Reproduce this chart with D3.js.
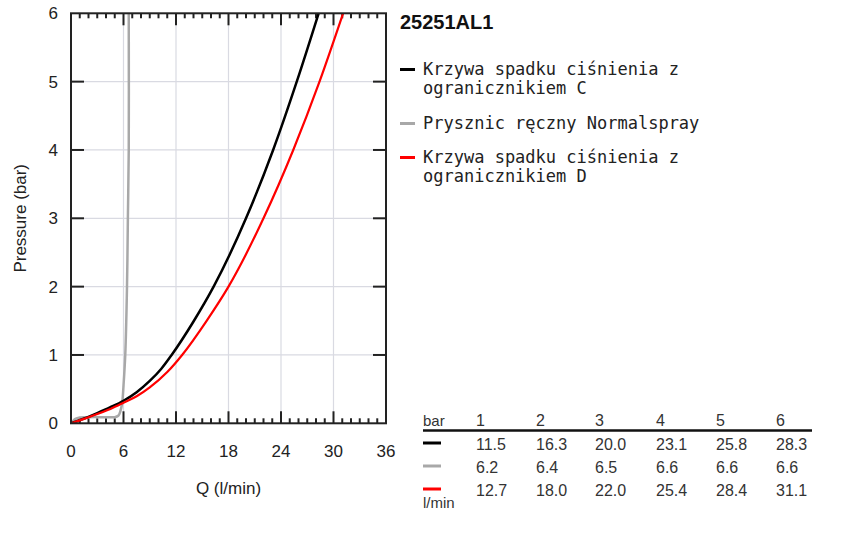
<!DOCTYPE html>
<html><head><meta charset="utf-8">
<script src="https://cdn.jsdelivr.net/npm/d3@7"></script>
<style>body{margin:0;background:#fff}svg{display:block}</style>
</head><body><svg id="c" width="850" height="545"></svg>
<script>
const title = "25251AL1";
const seriesNames = ["Krzywa spadku ciśnienia z\nogranicznikiem C", "Prysznic ręczny Normalspray", "Krzywa spadku ciśnienia z\nogranicznikiem D"];
const seriesColors = ["#000000", "#a8a8a8", "#ff0000"];
const blackQ = [0, 1.5, 3, 4.5, 6, 7.5, 9, 10.3, 11.5, 14, 16.3, 20.0, 23.1, 25.8, 28.3];
const blackP = [0, 0.07, 0.15, 0.235, 0.33, 0.455, 0.62, 0.795, 1, 1.49, 2, 3, 4, 5, 6];
const grayQ = [0, 0.2, 0.5, 1.0, 2, 4, 5.0, 5.4, 5.65, 5.85, 6.0, 6.2, 6.4, 6.5, 6.6, 6.6];
const grayP = [0, 0.03, 0.065, 0.085, 0.09, 0.09, 0.09, 0.11, 0.18, 0.3, 0.55, 1, 2, 3, 4, 6];
const redQ = [0, 1.5, 3, 4.5, 6, 7.5, 9, 11, 12.7, 15.5, 18.0, 22.0, 25.4, 28.4, 31.1];
const redP = [0, 0.065, 0.135, 0.21, 0.3, 0.395, 0.525, 0.75, 1, 1.5, 2, 3, 4, 5, 6];
const xTicks = [0, 6, 12, 18, 24, 30, 36];
const yTicks = [0, 1, 2, 3, 4, 5, 6];
const tableHeader = ["1", "2", "3", "4", "5", "6"];
const tableBlack = ["11.5", "16.3", "20.0", "23.1", "25.8", "28.3"];
const tableGray = ["6.2", "6.4", "6.5", "6.6", "6.6", "6.6"];
const tableRed = ["12.7", "18.0", "22.0", "25.4", "28.4", "31.1"];

const svg = d3.select("#c");
const L = 71, R = 386, T = 13.3, B = 423.3;
const x = d3.scaleLinear().domain([0, 36]).range([L, R]);
const y = d3.scaleLinear().domain([0, 6]).range([B, T]);
const sans = "'Liberation Sans', Arial, sans-serif";
const mono = "'DejaVu Sans Mono', monospace";

// grid
const g = svg.append("g");
g.selectAll(".vg").data(xTicks.slice(1, -1)).enter().append("line")
  .attr("x1", d => x(d)).attr("x2", d => x(d)).attr("y1", T).attr("y2", B)
  .attr("stroke", "#d9dae2").attr("stroke-width", 1.2);
g.selectAll(".hg").data(yTicks.slice(1, -1)).enter().append("line")
  .attr("y1", d => y(d)).attr("y2", d => y(d)).attr("x1", L).attr("x2", R)
  .attr("stroke", "#d9dae2").attr("stroke-width", 1.2);

// ticks
const minor = d3.range(1, 36).filter(v => v % 6 !== 0);
const tk = svg.append("g").attr("stroke", "#222").attr("stroke-width", 2);
minor.forEach(v => {
  tk.append("line").attr("x1", x(v)).attr("x2", x(v)).attr("y1", B).attr("y2", B - 5);
  tk.append("line").attr("x1", x(v)).attr("x2", x(v)).attr("y1", T).attr("y2", T + 5);
});
xTicks.slice(1, -1).forEach(v => {
  tk.append("line").attr("x1", x(v)).attr("x2", x(v)).attr("y1", B).attr("y2", B - 12);
  tk.append("line").attr("x1", x(v)).attr("x2", x(v)).attr("y1", T).attr("y2", T + 12);
});
yTicks.slice(1, -1).forEach(v => {
  tk.append("line").attr("x1", L).attr("x2", L + 13).attr("y1", y(v)).attr("y2", y(v));
  tk.append("line").attr("x1", R).attr("x2", R - 13).attr("y1", y(v)).attr("y2", y(v));
});

// curves
svg.append("clipPath").attr("id", "clp").append("rect")
  .attr("x", L).attr("y", T).attr("width", R - L).attr("height", B - T);
const plot = svg.append("g").attr("clip-path", "url(#clp)");
const mk = (qs, ps) => qs.map((q, i) => [q, ps[i]]);
const lineN = d3.line().x(d => x(d[0])).y(d => y(d[1])).curve(d3.curveMonotoneX);
const lineC = d3.line().x(d => x(d[0])).y(d => y(d[1])).curve(d3.curveCatmullRom.alpha(0.5));
plot.append("path").attr("d", lineC(mk(grayQ, grayP))).attr("fill", "none")
  .attr("stroke", seriesColors[1]).attr("stroke-width", 2.5);
plot.append("path").attr("d", lineN(mk(blackQ, blackP))).attr("fill", "none")
  .attr("stroke", seriesColors[0]).attr("stroke-width", 2.5);
plot.append("path").attr("d", lineN(mk(redQ, redP))).attr("fill", "none")
  .attr("stroke", seriesColors[2]).attr("stroke-width", 2.2);

// frame
svg.append("rect").attr("x", L).attr("y", T).attr("width", R - L).attr("height", B - T)
  .attr("fill", "none").attr("stroke", "#222").attr("stroke-width", 2);

// tick labels
svg.selectAll(".xl").data(xTicks).enter().append("text")
  .attr("x", d => x(d)).attr("y", 457).attr("text-anchor", "middle")
  .attr("font-family", sans).attr("font-size", 17).attr("fill", "#222").text(d => d);
svg.selectAll(".yl").data(yTicks).enter().append("text")
  .attr("x", 58).attr("y", d => y(d) + 6).attr("text-anchor", "end")
  .attr("font-family", sans).attr("font-size", 17).attr("fill", "#222").text(d => d);

svg.append("text").attr("x", (L + R) / 2).attr("y", 494).attr("text-anchor", "middle")
  .attr("font-family", sans).attr("font-size", 17).attr("fill", "#222").text("Q (l/min)");
svg.append("text").attr("transform", `translate(26,${(T + B) / 2}) rotate(-90)`)
  .attr("text-anchor", "middle").attr("font-family", sans).attr("font-size", 17)
  .attr("fill", "#222").text("Pressure (bar)");

// title
svg.append("text").attr("x", 400).attr("y", 29).attr("font-family", sans)
  .attr("font-weight", "bold").attr("font-size", 20).attr("fill", "#111").text(title);

// legend
const legY = [75, 129, 163];
seriesNames.forEach((n, i) => {
  svg.append("line").attr("x1", 400).attr("x2", 415).attr("y1", legY[i] - 5.5).attr("y2", legY[i] - 5.5)
    .attr("stroke", seriesColors[i]).attr("stroke-width", 3);
  n.split("\n").forEach((t, j) => {
    svg.append("text").attr("x", 423).attr("y", legY[i] + j * 18.5)
      .attr("font-family", mono).attr("font-size", 17).attr("fill", "#222")
      .attr("xml:space", "preserve").text(t);
  });
});

// table
const colX = [476, 536, 595, 656, 716, 776];
const tf = 16;
svg.append("text").attr("x", 423).attr("y", 426).attr("font-family", sans).attr("font-size", 15)
  .attr("fill", "#333").text("bar");
tableHeader.forEach((t, i) => svg.append("text").attr("x", colX[i]).attr("y", 426)
  .attr("font-family", sans).attr("font-size", tf).attr("fill", "#333").text(t));
svg.append("line").attr("x1", 423).attr("x2", 812).attr("y1", 430.5).attr("y2", 430.5)
  .attr("stroke", "#111").attr("stroke-width", 2.5);
const rows = [tableBlack, tableGray, tableRed];
const rowY = [450, 473, 496];
rows.forEach((r, k) => {
  svg.append("line").attr("x1", 423).attr("x2", 441).attr("y1", rowY[k] - 7).attr("y2", rowY[k] - 7)
    .attr("stroke", seriesColors[k]).attr("stroke-width", 3);
  r.forEach((t, i) => svg.append("text").attr("x", colX[i]).attr("y", rowY[k])
    .attr("font-family", sans).attr("font-size", tf).attr("fill", "#333").text(t));
});
svg.append("text").attr("x", 423).attr("y", 508).attr("font-family", sans).attr("font-size", 15)
  .attr("fill", "#333").text("l/min");
</script></body></html>
